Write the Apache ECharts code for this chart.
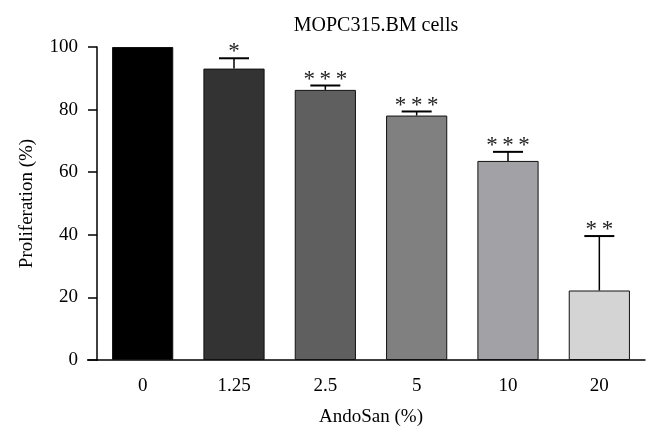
<!DOCTYPE html>
<html>
<head>
<meta charset="utf-8">
<script src="https://cdn.jsdelivr.net/npm/echarts@6/dist/echarts.min.js"></script>
<style>
  html, body { margin: 0; padding: 0; background: #fff; }
  #chart { width: 652px; height: 443px; }
</style>
</head>
<body>
<div id="chart"></div>
<script>
const categories = ['0', '1.25', '2.5', '5', '10', '20'];
const proliferation = [100, 93.1, 86.3, 78.1, 63.6, 22.2];
const errorTop = [100, 96.4, 87.7, 79.4, 66.5, 39.6];
const stars = ['', '*', '*\u2009*\u2009*', '*\u2009*\u2009*', '*\u2009*\u2009*', '*\u2009*'];
const barColors = ['#000000', '#333333', '#5f5f5f', '#808080', '#a2a2a6', '#d4d4d4'];
const yTicks = [0, 20, 40, 60, 80, 100];

const font = '"Liberation Serif", "DejaVu Serif", serif';

const chart = echarts.init(document.getElementById('chart'));

const option = {
  animation: false,
  title: {
    text: 'MOPC315.BM cells',
    left: 371,
    top: 11,
    textAlign: 'center',
    textStyle: { fontFamily: font, fontSize: 20, fontWeight: 'normal', color: '#000' }
  },
  grid: { left: 97, right: 7, top: 47, bottom: 83 },
  xAxis: {
    type: 'category',
    data: categories,
    name: 'AndoSan (%)',
    nameLocation: 'middle',
    nameGap: 48,
    nameTextStyle: { fontFamily: font, fontSize: 19, color: '#000' },
    axisLine: { lineStyle: { color: '#000', width: 1.5 } },
    axisTick: { alignWithLabel: true, length: 9, lineStyle: { color: '#000', width: 1.5 } },
    axisLabel: { fontFamily: font, fontSize: 19, color: '#000', margin: 17 }
  },
  yAxis: {
    type: 'value',
    min: yTicks[0],
    max: yTicks[yTicks.length - 1],
    interval: 20,
    name: 'Proliferation (%)',
    nameLocation: 'middle',
    nameGap: 60,
    nameTextStyle: { fontFamily: font, fontSize: 19, color: '#000' },
    axisLine: { show: true, lineStyle: { color: '#000', width: 1.5 } },
    axisTick: { show: true, length: 9, lineStyle: { color: '#000', width: 1.5 } },
    axisLabel: { fontFamily: font, fontSize: 19, color: '#000', margin: 19 },
    splitLine: { show: false }
  },
  series: [
    {
      type: 'bar',
      barWidth: '67%',
      data: proliferation.map((v, i) => ({
        value: v,
        itemStyle: { color: barColors[i], borderColor: '#111', borderWidth: 1 }
      }))
    },
    {
      type: 'custom',
      z: 3,
      data: categories.map((c, i) => [i, proliferation[i], errorTop[i]]),
      renderItem: function (params, api) {
        const x = api.coord([api.value(0), api.value(1)])[0];
        const yLow = api.coord([api.value(0), api.value(1)])[1];
        const yHigh = api.coord([api.value(0), api.value(2)])[1];
        const label = stars[params.dataIndex];
        const children = [];
        if (api.value(2) > api.value(1)) {
          children.push({
            type: 'line',
            shape: { x1: x, y1: yLow, x2: x, y2: yHigh },
            style: { stroke: '#000', lineWidth: 1.5 }
          });
          children.push({
            type: 'line',
            shape: { x1: x - 15, y1: yHigh, x2: x + 15, y2: yHigh },
            style: { stroke: '#000', lineWidth: 2 }
          });
        }
        if (label) {
          children.push({
            type: 'text',
            style: {
              x: x, y: yHigh - 6, text: label,
              textAlign: 'center', textVerticalAlign: 'middle',
              font: '23px ' + font, fill: '#222'
            }
          });
        }
        return { type: 'group', children: children };
      }
    }
  ]
};

chart.setOption(option);

// x axis line runs a little past the y axis on the left, as in the figure
const origin = chart.convertToPixel({ gridIndex: 0 }, [0, 0]);
chart.setOption({
  graphic: [{
    type: 'line',
    shape: { x1: 87, y1: origin[1], x2: 98, y2: origin[1] },
    style: { stroke: '#000', lineWidth: 1.5 }
  }]
});
</script>
</body>
</html>
